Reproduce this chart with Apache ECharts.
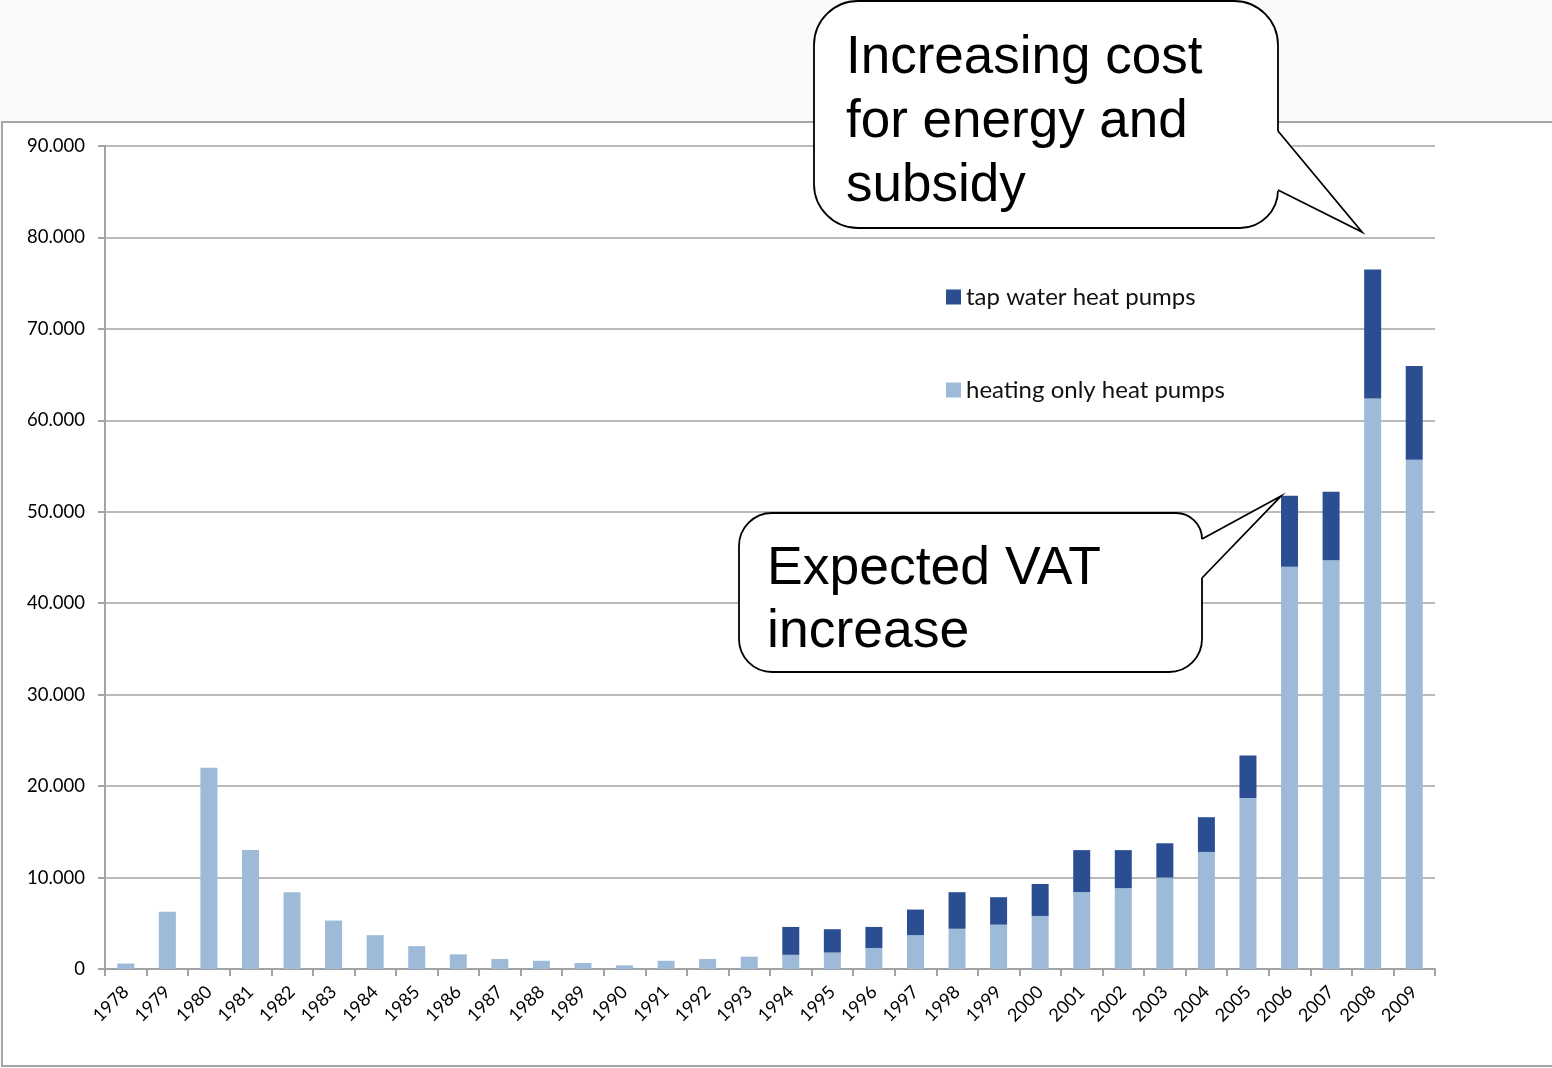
<!DOCTYPE html>
<html>
<head>
<meta charset="utf-8">
<script src="https://cdn.jsdelivr.net/npm/echarts@6/dist/echarts.min.js"></script>
<style>
html,body{margin:0;padding:0;background:#fafafa;}
#c{width:1552px;height:1068px;}
</style>
</head>
<body>
<div id="c"></div>
<script>
var years = ['1978','1979','1980','1981','1982','1983','1984','1985','1986','1987','1988','1989','1990','1991','1992','1993','1994','1995','1996','1997','1998','1999','2000','2001','2002','2003','2004','2005','2006','2007','2008','2009'];
var heatingOnly = [600, 6250, 22000, 13000, 8400, 5300, 3700, 2500, 1600, 1100, 900, 650, 400, 900, 1100, 1350, 1550, 1800, 2300, 3700, 4400, 4850, 5800, 8400, 8850, 10000, 12800, 18700, 44000, 44700, 62400, 55700];
var tapWater = [0, 0, 0, 0, 0, 0, 0, 0, 0, 0, 0, 0, 0, 0, 0, 0, 3050, 2550, 2300, 2800, 4000, 3000, 3500, 4600, 4150, 3750, 3800, 4650, 7750, 7500, 14100, 10250];
var seriesNames = ['heating only heat pumps', 'tap water heat pumps'];
var yTicks = {min: 0, max: 90000, interval: 10000};
var callout1Lines = 'Increasing cost\nfor energy and\nsubsidy';
var callout2Lines = 'Expected VAT\nincrease';

function fmt(v){
  if (v === 0) return '0';
  return String(v).replace(/\B(?=(\d{3})+(?!\d))/g, '.');
}

var chart = echarts.init(document.getElementById('c'));
var gridColor = '#a3a3a3';
var legendText = {fontFamily: 'Lato', fontSize: 24, color: '#111', lineHeight: 26};
var calloutFont = '"Liberation Sans", Arial, sans-serif';

chart.setOption({
  backgroundColor: '#fafafa',
  animation: false,
  grid: {left: 105, right: 117, top: 146, bottom: 99, containLabel: false},
  legend: [
    {data: [seriesNames[1]], left: 946, top: 284, padding: 0, itemWidth: 15, itemHeight: 15, itemGap: 0, textStyle: legendText, icon: 'rect', selectedMode: false},
    {data: [seriesNames[0]], left: 946, top: 377, padding: 0, itemWidth: 15, itemHeight: 15, itemGap: 0, textStyle: legendText, icon: 'rect', selectedMode: false}
  ],
  xAxis: {
    type: 'category',
    data: years,
    axisLine: {lineStyle: {color: gridColor, width: 2}},
    axisTick: {show: true, length: 7, lineStyle: {color: gridColor, width: 2}},
    axisLabel: {rotate: 45, margin: 20, fontFamily: 'Lato', fontSize: 18, color: '#000', interval: 0}
  },
  yAxis: {
    type: 'value',
    min: yTicks.min, max: yTicks.max, interval: yTicks.interval,
    axisLine: {show: true, lineStyle: {color: gridColor, width: 2}},
    axisTick: {show: true, length: 7, lineStyle: {color: gridColor, width: 2}},
    splitLine: {show: true, lineStyle: {color: gridColor, width: 1.5}},
    axisLabel: {formatter: fmt, margin: 20, fontFamily: 'Lato', fontSize: 18.5, color: '#000'}
  },
  series: [
    {name: seriesNames[0], type: 'bar', stack: 'a', data: heatingOnly, barWidth: 17, itemStyle: {color: '#9dbad9'}},
    {name: seriesNames[1], type: 'bar', stack: 'a', data: tapWater, barWidth: 17, itemStyle: {color: '#2b4e92'}}
  ],
  graphic: [
    {type: 'rect', silent: true, z: -10, shape: {x: 2, y: 122, width: 1600, height: 944}, style: {fill: '#ffffff', stroke: '#a6a6a6', lineWidth: 2}},
    // callout 1
    {type: 'rect', silent: true, z: 100, shape: {x: 814, y: 1, width: 464, height: 227, r: [44, 44, 38, 44]}, style: {fill: '#ffffff', stroke: '#000000', lineWidth: 1.8}},
    {type: 'polygon', silent: true, z: 101, shape: {points: [[1274, 131], [1280, 131], [1362, 232], [1280, 191], [1274, 191]]}, style: {fill: '#ffffff'}},
    {type: 'polyline', silent: true, z: 102, shape: {points: [[1278, 131], [1362, 232], [1278, 190]]}, style: {stroke: '#000000', lineWidth: 1.8, fill: null}},
    {type: 'text', silent: true, z: 103, x: 846, y: 122,
     style: {text: callout1Lines, fontFamily: calloutFont, fontSize: 53, lineHeight: 64, fill: '#000', verticalAlign: 'middle', align: 'left'}},
    // callout 2
    {type: 'rect', silent: true, z: 100, shape: {x: 739, y: 513, width: 463, height: 159, r: [33, 26, 33, 33]}, style: {fill: '#ffffff', stroke: '#000000', lineWidth: 1.8}},
    {type: 'polygon', silent: true, z: 101, shape: {points: [[1198, 539], [1204, 539], [1281, 496], [1204, 578], [1198, 578]]}, style: {fill: '#ffffff'}},
    {type: 'polyline', silent: true, z: 102, shape: {points: [[1202, 539], [1281, 496], [1202, 578]]}, style: {stroke: '#000000', lineWidth: 1.8, fill: null}},
    {type: 'text', silent: true, z: 103, x: 767, y: 601,
     style: {text: callout2Lines, fontFamily: calloutFont, fontSize: 53.5, lineHeight: 63, fill: '#000', verticalAlign: 'middle', align: 'left'}}
  ]
});
</script>
</body>
</html>
